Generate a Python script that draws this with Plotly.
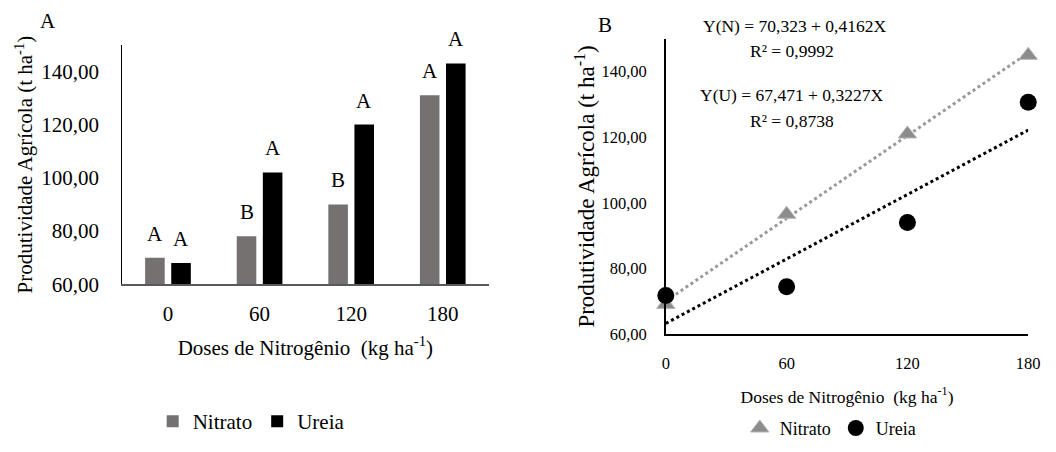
import numpy as np
import plotly.graph_objects as go

# ---------------- data ----------------
doses = [0, 60, 120, 180]
dose_labels = ["0", "60", "120", "180"]
bar_nitrato = [70, 78, 90, 131]
bar_ureia = [68, 102, 120, 143]
letters_nitrato = ["A", "B", "B", "A"]
letters_ureia = ["A", "A", "A", "A"]
pts_nitrato = [69, 96.5, 121, 145]
pts_ureia = [71.7, 74.4, 94, 130.7]
y_ticks = [60, 80, 100, 120, 140]
eq_n = "Y(N) = 70,323 + 0,4162X"
r2_n = "R² = 0,9992"
eq_u = "Y(U) = 67,471 + 0,3227X"
r2_u = "R² = 0,8738"

FONT = "Liberation Serif, Times New Roman, serif"
GRAY_BAR = "#767171"
GRAY_PT = "#8c8c8c"

W, H = 1056, 452

fig = go.Figure()

# ---------------- panel A: bars ----------------
fig.add_trace(go.Bar(x=dose_labels, y=bar_nitrato, name="Nitrato",
                     marker=dict(color=GRAY_BAR, line=dict(width=0)),
                     xaxis="x", yaxis="y", legend="legend"))
fig.add_trace(go.Bar(x=dose_labels, y=bar_ureia, name="Ureia",
                     marker=dict(color="black", line=dict(width=0)),
                     xaxis="x", yaxis="y", legend="legend"))

annotations = []
for i, (v, t) in enumerate(zip(bar_nitrato, letters_nitrato)):
    annotations.append(dict(x=i, y=v, xref="x", yref="y", text=t, showarrow=False,
                            xshift=-13, yshift=10, xanchor="center", yanchor="bottom",
                            font=dict(family=FONT, size=21, color="black")))
for i, (v, t) in enumerate(zip(bar_ureia, letters_ureia)):
    annotations.append(dict(x=i, y=v, xref="x", yref="y", text=t, showarrow=False,
                            xshift=13, yshift=10, xanchor="center", yanchor="bottom",
                            font=dict(family=FONT, size=21, color="black")))

# ---------------- panel B: scatter + trend ----------------
xs = np.array(doses, dtype=float)
xline = np.array([min(doses), max(doses)], dtype=float)
cn = np.polyfit(xs, pts_nitrato, 1)
cu = np.polyfit(xs, pts_ureia, 1)

fig.add_trace(go.Scatter(x=xline, y=np.polyval(cn, xline), mode="lines",
                         line=dict(color="#9a9a9a", width=3, dash="dot"),
                         showlegend=False, xaxis="x2", yaxis="y2", cliponaxis=False))
fig.add_trace(go.Scatter(x=xline, y=np.polyval(cu, xline), mode="lines",
                         line=dict(color="black", width=3, dash="dot"),
                         showlegend=False, xaxis="x2", yaxis="y2", cliponaxis=False))
fig.add_trace(go.Scatter(x=doses, y=pts_nitrato, mode="markers", name="Nitrato",
                         marker=dict(symbol="triangle-up", size=16, color=GRAY_PT,
                                     line=dict(color="#b5b5b5", width=1)),
                         xaxis="x2", yaxis="y2", legend="legend2", cliponaxis=False))
fig.add_trace(go.Scatter(x=doses, y=pts_ureia, mode="markers", name="Ureia",
                         marker=dict(symbol="circle", size=17, color="black"),
                         xaxis="x2", yaxis="y2", legend="legend2", cliponaxis=False))

def px_x(p):
    return p / W

def px_y(p):
    return 1 - p / H

def paper_text(x, y, text, size):
    return dict(x=px_x(x), y=px_y(y), xref="paper", yref="paper", text=text,
                showarrow=False, xanchor="center", yanchor="middle",
                font=dict(family=FONT, size=size, color="black"))

# panel labels and equations
annotations += [
    paper_text(45, 22, "A", 21),
    paper_text(610, 26, "B", 21),
    paper_text(803, 27, eq_n, 17.5),
    paper_text(800, 52, r2_n, 17.5),
    paper_text(800, 98, eq_u, 17.5),
    paper_text(800, 124, r2_u, 17.5),
]

ytitle = "Produtividade Agrícola (t ha<sup>-1</sup>)"
xtitle = "Doses de Nitrogênio  (kg ha<sup>-1</sup>)"

fig.update_layout(
    width=W, height=H,
    margin=dict(l=0, r=0, t=0, b=0),
    paper_bgcolor="white", plot_bgcolor="white",
    separators=",.",
    font=dict(family=FONT, color="black"),
    barmode="group", bargap=0.43, bargroupgap=0.25,
    xaxis=dict(domain=[px_x(120), px_x(492)], anchor="y", type="category",
               showline=True, linecolor="#595959", linewidth=1.5,
               showgrid=False, zeroline=False, ticks="",
               ticklabelstandoff=10,
               tickfont=dict(family=FONT, size=21, color="black"),
               title=dict(text=xtitle, standoff=15,
                          font=dict(family=FONT, size=21, color="black"))),
    yaxis=dict(domain=[px_y(292), px_y(46)], anchor="x", range=[60, 150],
               tickvals=y_ticks, tickformat=".2f",
               showline=True, linecolor="black", linewidth=1,
               showgrid=False, zeroline=False, ticks="",
               ticklabelstandoff=18,
               tickfont=dict(family=FONT, size=21, color="black"),
               title=dict(text=ytitle, standoff=2,
                          font=dict(family=FONT, size=21, color="black"))),
    xaxis2=dict(domain=[px_x(672), px_x(1040)], anchor="y2", range=[0, 180],
                tickvals=doses, ticktext=dose_labels,
                showline=True, linecolor="black", linewidth=1.5,
                showgrid=False, zeroline=False, ticks="",
                ticklabelstandoff=14,
                tickfont=dict(family=FONT, size=16.5, color="black"),
                title=dict(text=xtitle, standoff=18,
                           font=dict(family=FONT, size=17.5, color="black"))),
    yaxis2=dict(domain=[px_y(343), px_y(40)], anchor="x2", range=[60, 150],
                tickvals=y_ticks, tickformat=".2f",
                showline=True, linecolor="black", linewidth=1.5,
                showgrid=False, zeroline=False, ticks="",
                ticklabelstandoff=14,
                tickfont=dict(family=FONT, size=16.5, color="black"),
                title=dict(text=ytitle, standoff=0,
                           font=dict(family=FONT, size=23, color="black"))),
    legend=dict(orientation="h", x=px_x(251), y=px_y(433), xanchor="center", yanchor="middle",
                font=dict(family=FONT, size=21, color="black"), bgcolor="rgba(0,0,0,0)",
                itemwidth=30),
    legend2=dict(orientation="h", x=px_x(839), y=px_y(440), xanchor="center", yanchor="middle",
                 font=dict(family=FONT, size=18, color="black"), bgcolor="rgba(0,0,0,0)",
                 itemwidth=30),
    annotations=annotations,
    showlegend=True,
)

fig.write_html("out.html")
